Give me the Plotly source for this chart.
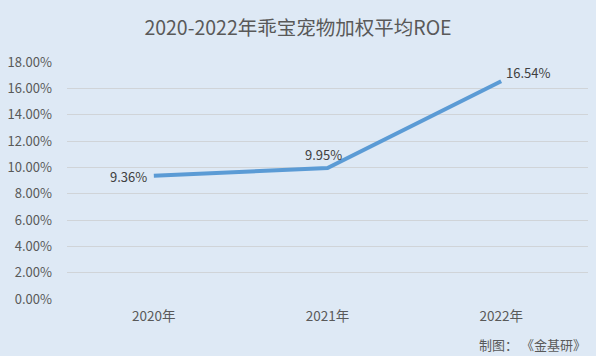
import plotly.graph_objects as go

years = ["2020年", "2021年", "2022年"]
roe = [9.36, 9.95, 16.54]
labels = ["9.36%", "9.95%", "16.54%"]
y_ticks = [0, 2, 4, 6, 8, 10, 12, 14, 16, 18]
y_tick_text = [f"{v:.2f}%" for v in y_ticks]

# label placement styles (anchor, x shift, y shift)
label_style = [("right", -5, -1), ("center", -4, 13), ("left", 3, 9)]

bg = "#dee9f5"
font_family = "Noto Sans CJK SC, Noto Sans, sans-serif"

fig = go.Figure()
fig.add_trace(go.Scatter(
    x=years, y=roe, mode="lines",
    line=dict(color="#5b9bd5", width=4),
    showlegend=False, hoverinfo="skip",
))

annotations = []
for xv, yv, t, (anc, xs, ys) in zip(years, roe, labels, label_style):
    annotations.append(dict(x=xv, y=yv, xref="x", yref="y", text=t,
                            showarrow=False, xanchor=anc, yanchor="middle",
                            xshift=xs, yshift=ys,
                            font=dict(size=13, color="#404040", family=font_family)))
annotations.append(dict(text="制图： 《金基研》", xref="paper", yref="paper",
                        x=1.0, y=-0.194, xanchor="right", yanchor="middle",
                        showarrow=False,
                        font=dict(size=13, color="#595959", family=font_family)))

fig.update_layout(
    width=596, height=356,
    paper_bgcolor=bg, plot_bgcolor=bg,
    margin=dict(l=62, r=8, t=62, b=57),
    title=dict(text="2020-2022年乖宝宠物加权平均ROE", x=0.5, xanchor="center",
               y=0.92, yanchor="middle",
               font=dict(size=19.5, color="#595959", family=font_family)),
    xaxis=dict(range=[-0.5, 2.5], showgrid=False, showline=False, zeroline=False,
               tickfont=dict(size=13.5, color="#595959", family=font_family),
               ticks="", ticklabelstandoff=7),
    yaxis=dict(range=[0, 18], tickvals=y_ticks, ticktext=y_tick_text,
               showgrid=True, gridcolor="#d0d4d8", gridwidth=1,
               zeroline=False, showline=False,
               tickfont=dict(size=13, color="#595959", family=font_family),
               ticks="", ticklabelstandoff=14),
    annotations=annotations,
)

fig.write_html("out.html", config={"displayModeBar": False},
               post_script="document.body.style.margin='0';document.body.style.padding='0';document.body.style.background='" + bg + "';")
